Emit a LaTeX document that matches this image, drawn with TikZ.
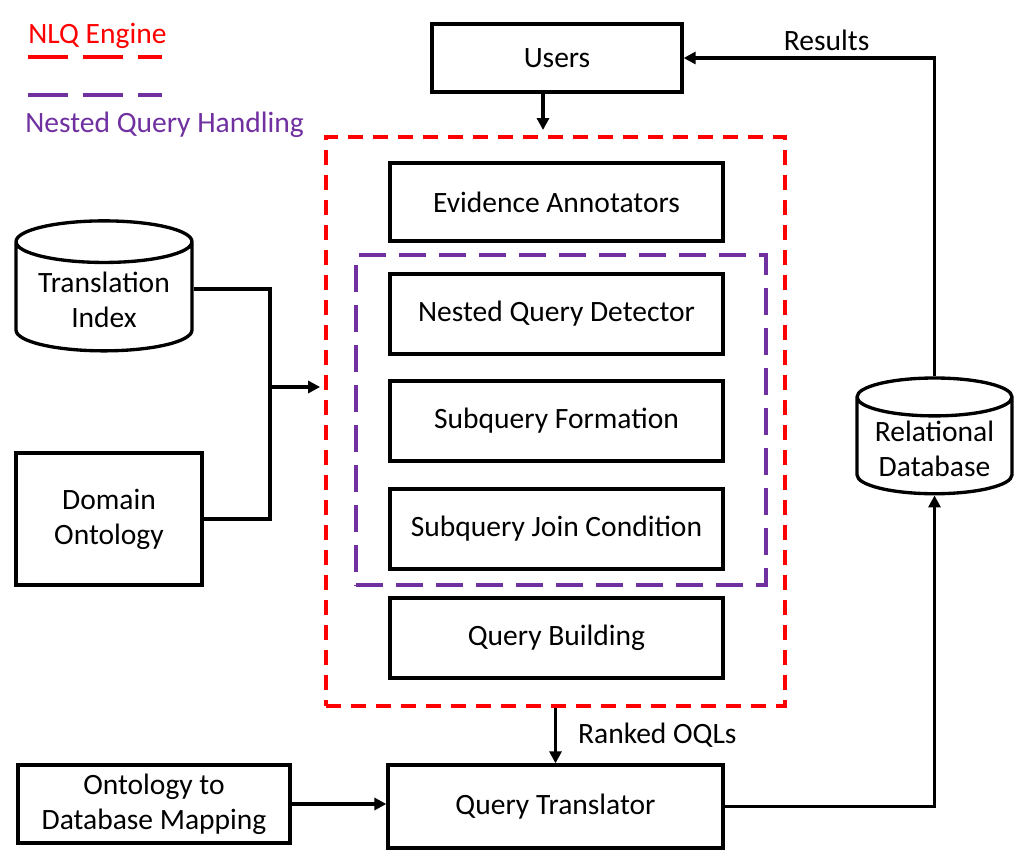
\documentclass[tikz,border=0pt]{standalone}
\usepackage{fontspec}
\setmainfont{Carlito}
\usetikzlibrary{arrows.meta,positioning,shapes.geometric}
\definecolor{nlqred}{HTML}{FF0000}
\definecolor{nestpurple}{HTML}{7030A0}
\tikzset{
  procbox/.style={
    rectangle, draw=black, line width=1.9pt, fill=white,
    minimum width=#1, minimum height=1.6cm,
    align=center, inner sep=2pt
  },
  procbox/.default=6.66cm,
  dbcyl/.style={
    cylinder, shape border rotate=90, draw=black, line width=1.9pt,
    fill=white, aspect=0.3, align=center, inner sep=2pt
  },
  enginebox/.style={
    rectangle, draw=#1, dash pattern=on 0.3cm off 0.2cm,
    line width=2.2pt, inner sep=0pt
  },
  flowarrow/.style={
    -{Triangle[length=0.24cm,width=0.24cm]}, line width=2pt
  },
  flowline/.style={line width=2pt},
  legendline/.style={line width=2.4pt, color=#1, dash pattern=on 0.8cm off 0.3cm},
}

\begin{document}
\begin{tikzpicture}[x=0.02cm, y=-0.02cm,
  every node/.style={font=\fontsize{16.8}{20}\selectfont}]
  \useasboundingbox (0,0) rectangle (1020,858);

  % legend
  \node[anchor=west, text=nlqred, inner sep=0pt] (lgnlq) at (28,36) {NLQ Engine};
  \draw[legendline=nlqred] (28,57) coordinate (lgnlqa) -- (162,57) coordinate (lgnlqb);
  \draw[legendline=nestpurple] (28,95) coordinate (lgnesta) -- (162,95) coordinate (lgnestb);
  \node[anchor=west, text=nestpurple, inner sep=0pt] (lgnest) at (25,125) {Nested Query Handling};

  % frames
  \node[enginebox=nlqred, minimum width=9.18cm, minimum height=11.38cm] (nlq) at (555.5,421.5) {};
  \node[enginebox=nestpurple, dash pattern=on 0.54cm off 0.26cm,
        minimum width=8.2cm, minimum height=6.6cm] (nest) at (561,420) {};

  % boxes
  \node[procbox=5cm, minimum height=1.36cm] (users) at (557,58) {Users};
  \node[procbox, minimum height=1.56cm] (evid) at (556.5,202) {Evidence Annotators};
  \node[procbox] (detect) at (556.5,314) {Nested Query Detector};
  \node[procbox] (subform) at (556.5,421) {Subquery Formation};
  \node[procbox] (subjoin) at (556.5,529) {Subquery Join Condition};
  \node[procbox] (qbuild) at (556.5,638) {Query Building};
  \node[procbox=6.7cm, minimum height=1.66cm] (qtrans) at (555.5,806.5) {Query Translator};
  \node[procbox=5.44cm, minimum height=1.56cm] (omap) at (154,804) {Ontology to\\Database Mapping};
  \node[procbox=3.72cm, minimum height=2.64cm] (domain) at (109,519) {Domain\\Ontology};
  \node[dbcyl, minimum width=3.52cm, minimum height=2.6cm] (trans) at (104,300) {Translation\\Index};
  \node[dbcyl, minimum width=3.1cm, minimum height=2.24cm] (reldb) at (934.5,449) {Relational\\Database};

  % connectors
  \coordinate (uin) at (543,130);
  \draw[flowarrow] (users.south -| uin) -- (uin);
  \coordinate (join) at (270,387);
  \draw[flowline] (trans.east |- 0,289) -- (join |- 0,289) |- (domain.east);
  \draw[flowarrow] (join) -- ([xshift=-0.08cm]join -| nlq.west);
  \draw[flowarrow] (nlq.south -| qtrans.north) -- (qtrans.north)
    node[midway, right, xshift=0.3cm] (oqls) {Ranked OQLs};
  \draw[flowarrow] (omap.east) -- (omap.east -| qtrans.west);
  \draw[flowarrow] (qtrans.east) -| (reldb.south);
  \draw[flowarrow] (reldb.north) |- (users.east)
    node[pos=0.715, above] (results) {Results};
\end{tikzpicture}
\end{document}
